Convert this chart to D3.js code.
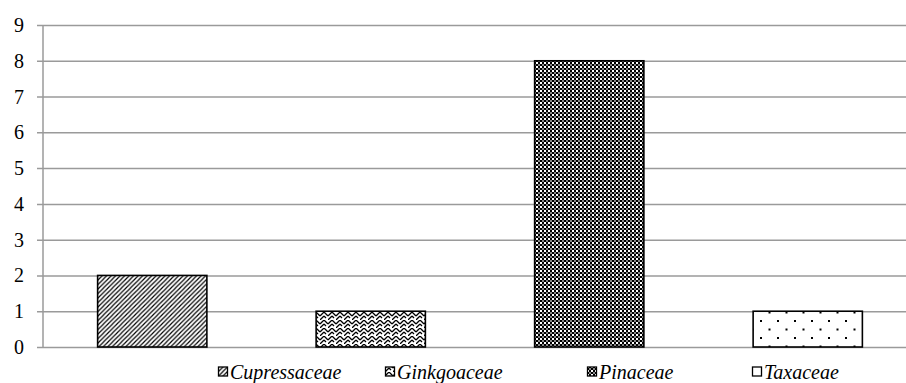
<!DOCTYPE html>
<html>
<head>
<meta charset="utf-8">
<script src="https://cdn.jsdelivr.net/npm/d3@7"></script>
<style>
  html, body { margin: 0; padding: 0; background: #fff; }
  svg { display: block; }
</style>
</head>
<body>
<div id="chart"></div>
<script>
// Number of genera per conifer family
const families = ["Cupressaceae", "Ginkgoaceae", "Pinaceae", "Taxaceae"];
const counts = [2, 1, 8, 1];
const yTicks = [0, 1, 2, 3, 4, 5, 6, 7, 8, 9];
const fills = ["url(#diag)", "url(#weave)", "url(#checker)", "url(#dots)"];
const legendX = [218, 385, 587, 752];

const SERIF = '"Liberation Serif", "Times New Roman", serif';
const W = 906, H = 383;
const svg = d3.select("#chart").append("svg").attr("width", W).attr("height", H);

// Fill patterns
const defs = svg.append("defs");

const diag = defs.append("pattern").attr("id", "diag")
  .attr("patternUnits", "userSpaceOnUse").attr("width", 4.5).attr("height", 4.5);
diag.append("rect").attr("width", 4.5).attr("height", 4.5).attr("fill", "#fff");
diag.append("path").attr("d", "M-1,5.5 L5.5,-1 M-1,1 L1,-1 M3.5,5.5 L5.5,3.5")
  .attr("stroke", "#000").attr("stroke-width", 1.2);

const weave = defs.append("pattern").attr("id", "weave")
  .attr("patternUnits", "userSpaceOnUse").attr("width", 8).attr("height", 8);
weave.append("rect").attr("width", 8).attr("height", 8).attr("fill", "#fff");
weave.append("path").attr("d", "M0,4 L4,0 M4,0 L8,4 M0,8 L4,4 M4,4 L6,6")
  .attr("stroke", "#000").attr("stroke-width", 1.3).attr("fill", "none");

const checker = defs.append("pattern").attr("id", "checker")
  .attr("patternUnits", "userSpaceOnUse").attr("width", 4).attr("height", 4);
checker.append("rect").attr("width", 4).attr("height", 4).attr("fill", "#fff");
checker.append("rect").attr("x", 0).attr("y", 0).attr("width", 2).attr("height", 2).attr("fill", "#000");
checker.append("rect").attr("x", 2).attr("y", 2).attr("width", 2).attr("height", 2).attr("fill", "#000");
checker.append("rect").attr("x", 2).attr("y", 0).attr("width", 2).attr("height", 2).attr("fill", "#888");

const dots = defs.append("pattern").attr("id", "dots")
  .attr("patternUnits", "userSpaceOnUse").attr("width", 17).attr("height", 17)
  .attr("x", 760).attr("y", 303);
dots.append("rect").attr("width", 17).attr("height", 17).attr("fill", "#fff");
dots.append("rect").attr("x", 0).attr("y", 0).attr("width", 2).attr("height", 2).attr("fill", "#000");
dots.append("rect").attr("x", 8.5).attr("y", 8.5).attr("width", 2).attr("height", 2).attr("fill", "#000");

// Scales
const x = d3.scaleBand().domain(families).range([43, 917])
  .paddingInner(0.5).paddingOuter(0.25);
const y = d3.scaleLinear().domain([0, 9]).range([347, 25]);

// Gridlines with left tick stubs
const grid = svg.append("g")
  .attr("transform", "translate(43,0)")
  .call(d3.axisLeft(y).tickValues(yTicks).tickSize(-(W - 43)).tickFormat(""));
grid.select(".domain").remove();
grid.selectAll(".tick line").attr("stroke", "#9a9a9a").attr("stroke-width", 1.5)
  .attr("x1", -6);

// Vertical axis line
svg.append("line").attr("x1", 43).attr("x2", 43)
  .attr("y1", y(9)).attr("y2", y(0))
  .attr("stroke", "#9a9a9a").attr("stroke-width", 1.5);

// Tick labels
svg.append("g").selectAll("text").data(yTicks).join("text")
  .attr("x", 24).attr("y", d => y(d))
  .attr("dy", "0.35em").attr("text-anchor", "end")
  .style("font-family", SERIF).style("font-size", "20px").style("fill", "#000")
  .text(d => d);

// Bars
svg.append("g").selectAll("rect").data(families).join("rect")
  .attr("x", d => x(d)).attr("width", x.bandwidth())
  .attr("y", (d, i) => y(counts[i]))
  .attr("height", (d, i) => y(0) - y(counts[i]))
  .attr("fill", (d, i) => fills[i])
  .attr("stroke", "#000").attr("stroke-width", 1.6);

// Legend
const leg = svg.append("g").selectAll("g").data(families).join("g")
  .attr("transform", (d, i) => `translate(${legendX[i]},372)`);
leg.append("rect").attr("x", 0.5).attr("y", -5).attr("width", 9).attr("height", 9)
  .attr("fill", (d, i) => fills[i]).attr("stroke", "#000").attr("stroke-width", 1.3);
leg.append("text").attr("x", 12).attr("y", 0).attr("dy", "0.35em")
  .style("font-family", SERIF).style("font-style", "italic")
  .style("font-size", "20px").style("fill", "#000")
  .text(d => d);
</script>
</body>
</html>
